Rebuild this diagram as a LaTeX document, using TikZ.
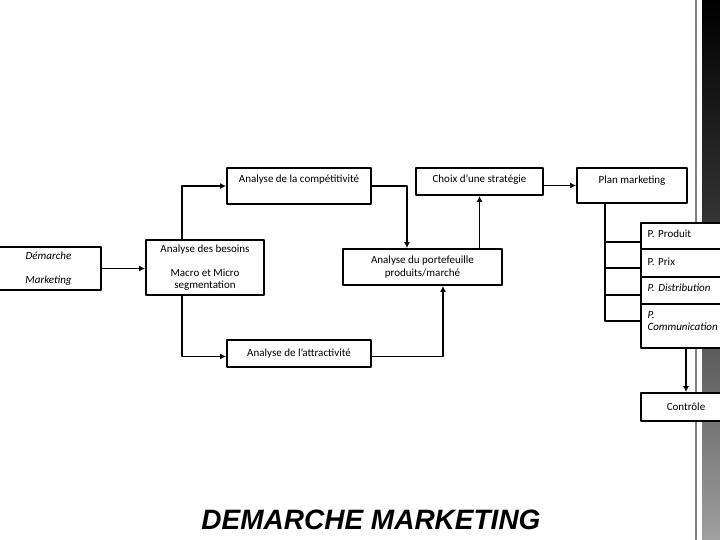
\documentclass[tikz,border=0pt]{standalone}
\usepackage{fontspec}
\setmainfont{Carlito}
\newfontfamily\titrefont{Liberation Sans}
\usetikzlibrary{arrows.meta}

\begin{document}
\begin{tikzpicture}[
			x=1pt, y=-1pt,
			every node/.style={font=\fontsize{11}{12.5}\selectfont},
			line cap=round,
			line join=round,
			etape/.style={draw, fill=white, line width=1.8pt, inner sep=0pt, align=center},
			levier/.style={etape, text width=77pt, inner xsep=6.5pt, align=left, minimum width=90pt},
			lien/.style={line width=1.8pt},
			fleche/.style={lien, -{Latex[length=6pt, width=6pt]}}
			]
			\useasboundingbox (0,0) rectangle (720,540);
			
			% Bande du fond
			\shade[top color=black, bottom color=gray!75, middle color=black!75] (702,0) rectangle (720,540);
			\draw[gray, line width=2pt] (696,0) -- (696,540);
			
			% Etapes
			\node[etape, minimum width=105pt, minimum height=43pt] (demarche) at (48.5,268.5)
			{\itshape Démarche\\[11.5pt]\itshape Marketing};
			\node[etape, minimum width=118pt, minimum height=55pt] (besoins) at (205,267.5)
			{Analyse des besoins\\[11.5pt]Macro et Micro\\segmentation};
			\node[etape, minimum width=144pt, text height=15pt, text depth=21pt] (compet) at (299,186)
			{Analyse de la compétitivité};
			\node[etape, minimum width=144pt, minimum height=27pt] (attract) at (299,353.5)
			{Analyse de l’attractivité};
			\node[etape, minimum width=159pt, minimum height=36pt] (portef) at (422.5,267)
			{Analyse du portefeuille\\produits/marché};
			\node[etape, minimum width=127pt, text height=15pt, text depth=12pt] (choix) at (479.5,181.5)
			{Choix d’une stratégie};
			\node[etape, minimum width=110pt, text height=16pt, text depth=19pt] (plan) at (632,185.5)
			{Plan marketing};
			
			% Leviers du plan
			\node[levier, text height=14pt, text depth=12pt] (produit) at (686,236) {P. Produit};
			\node[levier, text height=16pt, text depth=12pt] (prix) at (686,263) {P. Prix};
			\node[levier, text height=14pt, text depth=13pt] (distrib) at (686,290.5) {\itshape P. Distribution};
			\node[levier, text height=14pt, text depth=30pt] (comm) at (686,326) {\itshape P.\\\itshape Communication};
			\node[etape, minimum width=90pt, minimum height=28pt] (controle) at (686,407) {Contrôle};
			
			% Liens
			\draw[fleche] (demarche.east) -- (demarche.east -| besoins.west);
			\draw[fleche] ([xshift=-23pt]besoins.north) |- (compet.west);
			\draw[fleche] ([xshift=-23pt]besoins.south) |- ([yshift=-3pt]attract.west);
			\draw[fleche] ([yshift=-3pt]attract.east) -| ([xshift=20.5pt]portef.south);
			\draw[fleche] (compet.east) -| ([xshift=-15.5pt]portef.north);
			\draw[fleche] (choix.south |- portef.north) -- (choix.south);
			\draw[fleche] (choix.east |- plan.west) -- (plan.west);
			
			\coordinate (tronc) at ([xshift=-27pt]plan.south);
			\draw[lien] (tronc) |- ([yshift=5pt]comm.west);
			\foreach \b/\d in {produit/-6pt, prix/-5pt, distrib/-4.5pt}
			\draw[lien] ([yshift=\d]\b.west) -| (tronc);
			\draw[fleche] (comm.south) -- (controle.north);
			
			% Titre
			\node[font=\titrefont\bfseries\itshape\fontsize{28}{30}\selectfont] (titre) at (371,520) {DEMARCHE MARKETING};
		\end{tikzpicture}
\end{document}
